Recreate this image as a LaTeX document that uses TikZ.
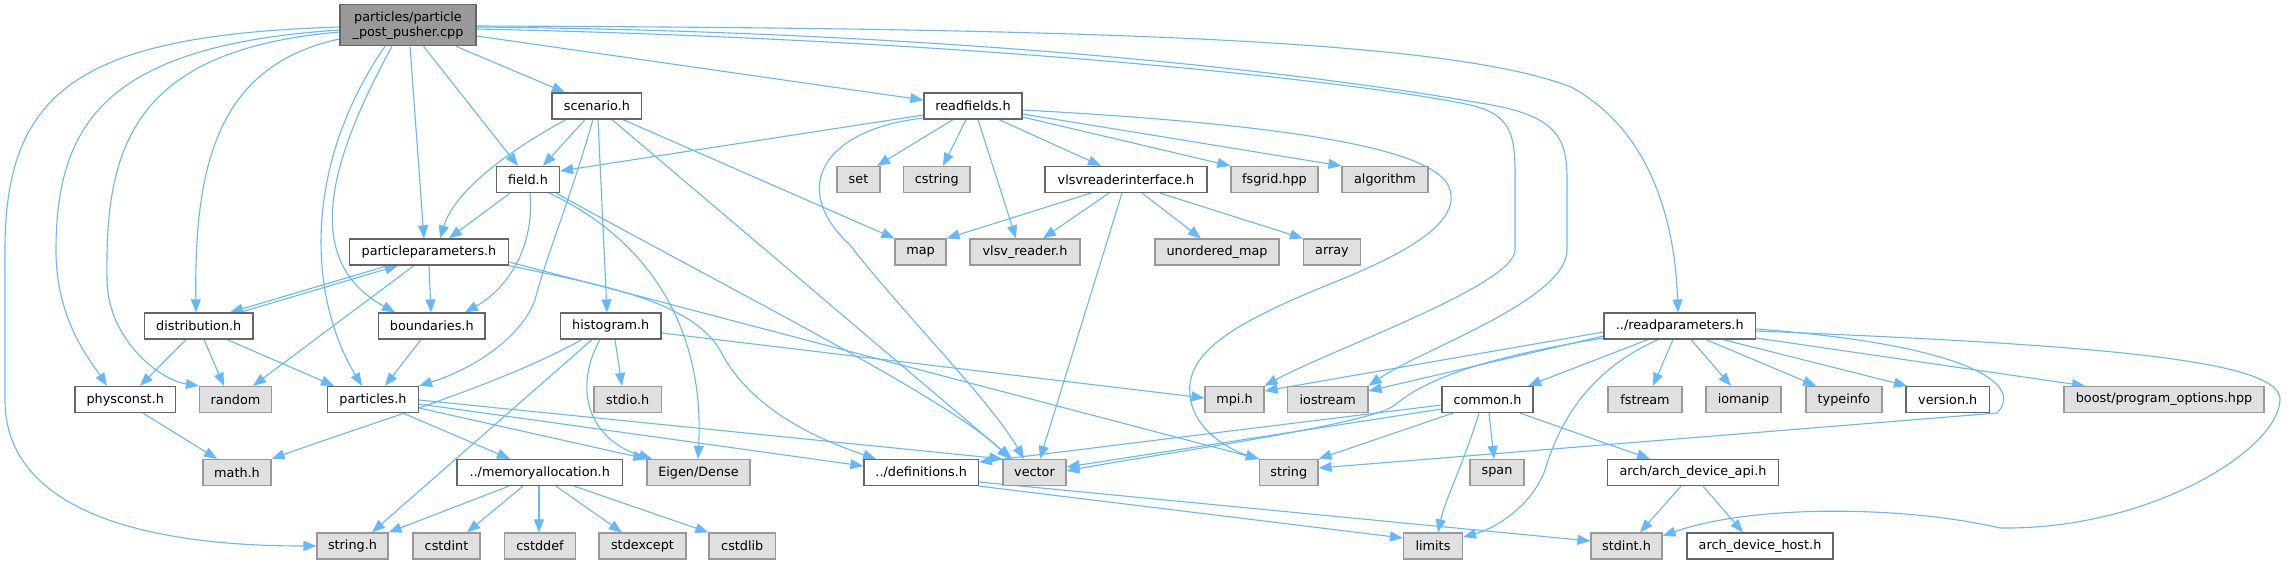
\documentclass[tikz,border=0pt]{standalone}
\usepackage{fontspec}
\setmainfont{DejaVu Sans}
\usetikzlibrary{arrows.meta}
\definecolor{edgec}{HTML}{63B8FF}
\definecolor{bdark}{HTML}{666666}
\definecolor{blight}{HTML}{999999}
\definecolor{fgray}{HTML}{E0E0E0}
\definecolor{froot}{HTML}{999999}
\pgfdeclarelayer{bglayer}
\pgfdeclarelayer{edgelayer}
\pgfsetlayers{bglayer,edgelayer,main}
\tikzset{
 box/.style={draw=bdark, fill=white, line width=0.6pt, inner sep=0pt, minimum height=13pt, font=\fontsize{6.4pt}{7.5pt}\selectfont},
 sys/.style={box, draw=blight, fill=fgray},
 rootbox/.style={box, fill=froot, minimum height=20.5pt, align=center},
 dep/.style={draw=edgec, line width=0.55pt, -{Triangle[length=6.5pt,width=5pt]}},
}
\begin{document}
\begin{tikzpicture}[x=0.5pt,y=-0.5pt]
\begin{pgfonlayer}{bglayer}
\fill[white] (0,0) rectangle (2287,564);
\end{pgfonlayer}
\useasboundingbox (0,0) rectangle (2287,564);
% row 0
\node[rootbox, minimum width=68pt] (root) at (408,25.2) {particles/particle\\\_post\_pusher.cpp};
% row 1
\node[box, minimum width=44.85pt] (scen) at (596.9,106) {scenario.h};
\node[box, minimum width=49pt] (rf) at (973,106) {readfields.h};
% row 2
\node[box, minimum width=31.5pt] (field) at (528,179.5) {field.h};
\node[sys, minimum width=21.5pt] (set) at (858.5,179.5) {set};
\node[sys, minimum width=33.25pt] (cstring) at (936.75,179.5) {cstring};
\node[box, minimum width=81pt] (vri) at (1126,179.5) {vlsvreaderinterface.h};
\node[sys, minimum width=43.5pt] (fsgrid) at (1274.5,179.5) {fsgrid.hpp};
\node[sys, minimum width=43pt] (algo) at (1385,179.5) {algorithm};
% row 3
\node[box, minimum width=79.5pt] (pp) at (429,252) {particleparameters.h};
\node[sys, minimum width=25.5pt] (map) at (920.5,252) {map};
\node[sys, minimum width=55pt] (vlsvr) at (1025,252) {vlsv\_reader.h};
\node[sys, minimum width=62pt] (umap) at (1217,252) {unordered\_map};
\node[sys, minimum width=28.5pt] (array) at (1332,252) {array};
% row 4
\node[box, minimum width=54.25pt] (dist) at (198.75,326) {distribution.h};
\node[box, minimum width=53.25pt] (bound) at (431.75,326) {boundaries.h};
\node[box, minimum width=50.25pt] (hist) at (610.75,326) {histogram.h};
\node[box, minimum width=75.75pt] (rp) at (1679.75,326) {../readparameters.h};
% row 5
\node[box, minimum width=50.25pt] (phys) at (125.25,399.5) {physconst.h};
\node[sys, minimum width=36pt] (random) at (235.5,399.5) {random};
\node[box, minimum width=45.5pt] (parts) at (373,399.5) {particles.h};
\node[sys, minimum width=33.75pt] (stdio) at (627.75,399.5) {stdio.h};
\node[sys, minimum width=29.5pt] (mpi) at (1234.5,399.5) {mpi.h};
\node[sys, minimum width=40.25pt] (iostream) at (1327.75,399.5) {iostream};
\node[box, minimum width=45.5pt] (common) at (1487.5,399.5) {common.h};
\node[sys, minimum width=37pt] (fstream) at (1645,399.5) {fstream};
\node[sys, minimum width=37.5pt] (iomanip) at (1743.5,399.5) {iomanip};
\node[sys, minimum width=38pt] (typeinfo) at (1844,399.5) {typeinfo};
\node[box, minimum width=41.75pt] (version) at (1947.75,399.5) {version.h};
\node[sys, minimum width=100pt] (boost) at (2164,399.5) {boost/program\_options.hpp};
% row 6
\node[sys, minimum width=34pt] (math) at (237,472.5) {math.h};
\node[box, minimum width=82.75pt] (memalloc) at (539.75,472.5) {../memoryallocation.h};
\node[sys, minimum width=51.5pt] (eigen) at (698.5,472.5) {Eigen/Dense};
\node[box, minimum width=57.25pt] (defs) at (921.25,472.5) {../definitions.h};
\node[sys, minimum width=31.5pt] (vector) at (1034.5,472.5) {vector};
\node[sys, minimum width=29.25pt] (string) at (1288.75,472.5) {string};
\node[sys, minimum width=27pt] (span) at (1497,472.5) {span};
\node[box, minimum width=85.5pt] (archapi) at (1693,472.5) {arch/arch\_device\_api.h};
% row 7
\node[sys, minimum width=35.5pt] (stringh) at (352.5,546) {string.h};
\node[sys, minimum width=33.5pt] (cstdint) at (446.5,546) {cstdint};
\node[sys, minimum width=35.5pt] (cstddef) at (540,546) {cstddef};
\node[sys, minimum width=43.5pt] (stdexcept) at (642.5,546) {stdexcept};
\node[sys, minimum width=33.25pt] (cstdlib) at (742.25,546) {cstdlib};
\node[sys, minimum width=29.5pt] (limits) at (1433,546) {limits};
\node[sys, minimum width=35.5pt] (stdint) at (1626.5,546) {stdint.h};
\node[box, minimum width=73pt] (archhost) at (1760,546) {arch\_device\_host.h};

\begin{pgfonlayer}{edgelayer}
% root
\draw[dep] (root.south -| 456,0) -- (scen.north -| 565,0);
\draw[dep] (root.east |- 0,36) -- (rf.west |- 0,100);
\draw[dep] (root.south -| 423.5,0) -- (field.north -| 518,0);
\draw[dep] (root.south -| 410,0) -- (pp.north -| 424,0);
\draw[dep] (root.south -| 392,0) .. controls (330,160) and (300,260) .. (bound.north -| 395,0);
\draw[dep] (root.south -| 385,0) .. controls (300,170) and (310,300) .. (parts.north -| 362,0);
\draw[dep] (root.west |- 0,39) .. controls (220,65) and (194,160) .. (dist.north -| 196,0);
\draw[dep] (root.west |- 0,32) .. controls (130,50) and (105,150) .. (107,280) .. controls (108,340) and (160,380) .. (random.north west);
\draw[dep] (root.west |- 0,30) .. controls (110,45) and (56,120) .. (56,250) .. controls (56,320) and (90,360) .. (phys.north -| 107,0);
\draw[dep] (root.west |- 0,27) .. controls (80,35) and (5,90) .. (5,250) -- (5,400) .. controls (5,500) and (120,546) .. (stringh.west);
\draw[dep] (root.east |- 0,26) .. controls (1100,28) and (1450,40) .. (1571,87) .. controls (1650,130) and (1675,220) .. (rp.north -| 1678,0);
\draw[dep] (root.east |- 0,29) .. controls (1000,40) and (1380,85) .. (1470,105) .. controls (1515,115) and (1515,140) .. (1515,180) -- (1515,250) .. controls (1515,285) and (1330,350) .. (mpi.north east);
\draw[dep] (root.east |- 0,27) .. controls (1000,32) and (1350,80) .. (1480,103) .. controls (1560,115) and (1567,140) .. (1567,180) -- (1567,250) .. controls (1567,300) and (1420,350) .. (iostream.north east);
% scenario
\draw[dep] (scen.south -| 566,0) .. controls (510,150) and (455,190) .. (pp.north -| 440,0);
\draw[dep] (scen.south -| 585,0) -- (field.north -| 543,0);
\draw[dep] (scen.south -| 593,0) .. controls (570,200) and (545,260) .. (535,300) .. controls (520,340) and (470,370) .. (parts.north east);
\draw[dep] (scen.south -| 598,0) -- (hist.north -| 607,0);
\draw[dep] (scen.south -| 612,0) -- (vector.north -| 1012,0);
\draw[dep] (scen.south -| 623,0) -- (map.north west);
% readfields
\draw[dep] (rf.west |- 0,115) -- (field.east |- 0,171);
\draw[dep] (rf.west |- 0,118) .. controls (820,130) and (790,190) .. (850,245) .. controls (900,310) and (990,400) .. (vector.north -| 1024,0);
\draw[dep] (rf.south -| 953,0) -- (set.north -| 877,0);
\draw[dep] (rf.south -| 966,0) -- (cstring.north -| 943,0);
\draw[dep] (rf.south -| 978,0) -- (vlsvr.north -| 1016,0);
\draw[dep] (rf.south -| 999,0) -- (vri.north -| 1101,0);
\draw[dep] (rf.east |- 0,117) -- (fsgrid.north west);
\draw[dep] (rf.east |- 0,114) -- (algo.north west);
\draw[dep] (rf.east |- 0,110) .. controls (1300,125) and (1440,150) .. (1450,190) .. controls (1460,225) and (1400,255) .. (1340,280) .. controls (1240,320) and (1185,350) .. (1190,395) .. controls (1193,430) and (1230,450) .. (string.north west);
% vlsvreaderinterface
\draw[dep] (vri.south -| 1091,0) -- (map.north east);
\draw[dep] (vri.south -| 1109,0) -- (vlsvr.north -| 1043,0);
\draw[dep] (vri.south -| 1122,0) -- (vector.north -| 1040,0);
\draw[dep] (vri.south -| 1142,0) -- (umap.north -| 1201,0);
\draw[dep] (vri.south -| 1160,0) -- (array.north west);
% field
\draw[dep] (field.south -| 510,0) -- (pp.north -| 449,0);
\draw[dep] (field.south -| 530,0) .. controls (535,250) and (505,290) .. (bound.north -| 465,0);
\draw[dep] (field.south -| 549,0) .. controls (650,240) and (705,330) .. (eigen.north -| 698,0);
\draw[dep] (field.south -| 556,0) .. controls (750,300) and (950,400) .. (vector.north -| 1010,0);
% particleparameters
\draw[dep] (pp.south -| 388,0) -- (dist.north -| 230,0);
\draw[dep] (dist.north -| 240,0) -- (pp.south -| 398,0);
\draw[dep] (pp.south -| 429,0) -- (bound.north -| 431,0);
\draw[dep] (pp.south -| 414,0) -- (random.north -| 253,0);
\draw[dep] (pp.south east) .. controls (600,285) and (690,300) .. (720,350) .. controls (750,410) and (820,440) .. (defs.north -| 876,0);
\draw[dep] (pp.east |- 0,262) -- (string.north west);
% distribution, boundaries
\draw[dep] (dist.south -| 186,0) -- (phys.north -| 140,0);
\draw[dep] (dist.south -| 204,0) -- (random.north -| 224,0);
\draw[dep] (dist.south -| 227,0) -- (parts.north -| 334,0);
\draw[dep] (bound.south -| 421,0) -- (parts.north -| 385,0);
% histogram
\draw[dep] (hist.south -| 615,0) -- (stdio.north -| 622,0);
\draw[dep] (hist.south -| 582,0) .. controls (500,385) and (380,420) .. (math.north east);
\draw[dep] (hist.south -| 592,0) -- (stringh.north -| 372,0);
\draw[dep] (hist.south -| 600,0) .. controls (572,390) and (590,440) .. (eigen.north -| 652,0);
\draw[dep] (hist.east |- 0,333) -- (mpi.west |- 0,398);
% particles, physconst
\draw[dep] (parts.south -| 403,0) -- (memalloc.north -| 510,0);
\draw[dep] (parts.east |- 0,408) -- (eigen.north west);
\draw[dep] (parts.east |- 0,404) -- (defs.west |- 0,466);
\draw[dep] (parts.east |- 0,400) -- (vector.north west);
\draw[dep] (phys.south -| 143,0) -- (math.north -| 217,0);
% memoryallocation
\draw[dep] (memalloc.south -| 509,0) -- (stringh.north east);
\draw[dep] (memalloc.south -| 523,0) -- (cstdint.north -| 467,0);
\draw[dep] (memalloc.south -| 539,0) -- (cstddef.north -| 539,0);
\draw[dep] (memalloc.south -| 556,0) -- (stdexcept.north -| 622,0);
\draw[dep] (memalloc.south -| 574,0) -- (cstdlib.north west);
% definitions
\draw[dep] (defs.south east) -- (limits.west |- 0,538);
\draw[dep] (defs.east |- 0,482) -- (stdint.west |- 0,541);
% common
\draw[dep] (common.west |- 0,405) -- (defs.east |- 0,462);
\draw[dep] (common.west |- 0,409) -- (vector.east |- 0,467);
\draw[dep] (common.south -| 1453,0) -- (string.north east);
\draw[dep] (common.south -| 1489,0) -- (span.north -| 1494,0);
\draw[dep] (common.south -| 1479,0) .. controls (1465,460) and (1445,500) .. (limits.north -| 1438,0);
\draw[dep] (common.south -| 1520,0) -- (archapi.north -| 1650,0);
% readparameters
\draw[dep] (rp.west |- 0,332) -- (mpi.east |- 0,391);
\draw[dep] (rp.west |- 0,336) -- (iostream.east |- 0,391);
\draw[dep] (rp.west |- 0,338) .. controls (1500,355) and (1430,375) .. (1395,405) .. controls (1370,425) and (1150,455) .. (vector.east |- 0,471);
\draw[dep] (rp.south -| 1648,0) -- (common.north -| 1528,0);
\draw[dep] (rp.south -| 1658,0) .. controls (1590,370) and (1560,420) .. (1545,470) .. controls (1530,510) and (1490,530) .. (limits.east |- 0,537);
\draw[dep] (rp.south -| 1673,0) -- (fstream.north -| 1653,0);
\draw[dep] (rp.south -| 1691,0) -- (iomanip.north -| 1731,0);
\draw[dep] (rp.south -| 1706,0) -- (typeinfo.north -| 1816,0);
\draw[dep] (rp.south -| 1723,0) -- (version.north -| 1907,0);
\draw[dep] (rp.east |- 0,338) -- (boost.north -| 2085,0);
\draw[dep] (rp.east |- 0,329) .. controls (1970,345) and (2025,385) .. (1997,413) -- (string.east |- 0,468);
\draw[dep] (rp.east |- 0,331) .. controls (2100,345) and (2282,360) .. (2280,400) .. controls (2278,450) and (2150,530) .. (2000,528) .. controls (1900,505) and (1750,505) .. (stdint.east |- 0,536);
% arch
\draw[dep] (archapi.south -| 1681,0) -- (stdint.north -| 1640,0);
\draw[dep] (archapi.south -| 1703,0) -- (archhost.north -| 1743,0);
\end{pgfonlayer}
\end{tikzpicture}
\end{document}
